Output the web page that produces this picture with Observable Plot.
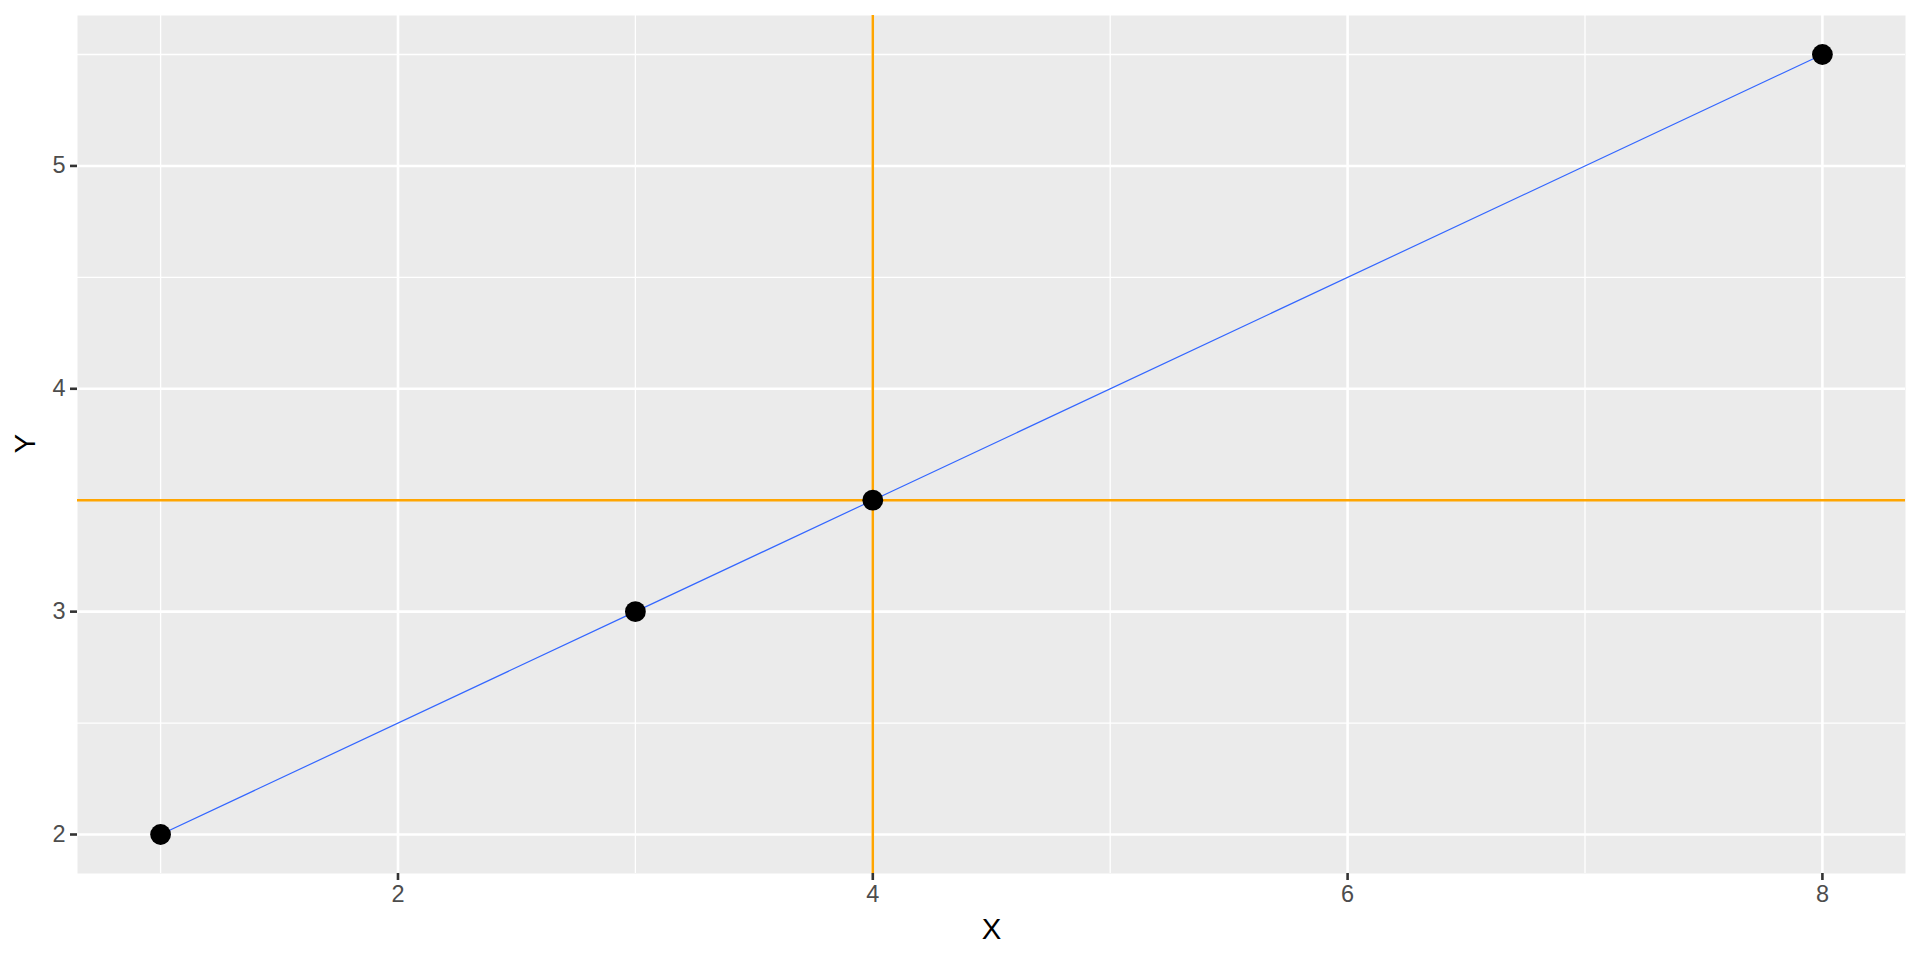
<!DOCTYPE html>
<html>
<head>
<meta charset="utf-8">
<script src="https://cdn.jsdelivr.net/npm/d3@7"></script>
<script src="https://cdn.jsdelivr.net/npm/@observablehq/plot@0.6"></script>
<style>
  html, body { margin: 0; padding: 0; background: #fff; }
  #chart { width: 1920px; height: 960px; }
</style>
</head>
<body>
<div id="chart"></div>
<script>
const xValues = [1, 3, 4, 8];
const yValues = [2, 3, 3.5, 5.5];
const vLine = [4];
const hLine = [3.5];
const xMajor = [2, 4, 6, 8];
const xMinor = [1, 3, 5, 7];
const yMajor = [2, 3, 4, 5];
const yMinor = [2.5, 3.5, 4.5, 5.5];
const xTitle = "X";
const yTitle = "Y";

const points = xValues.map((x, i) => ({x, y: yValues[i]}));
const font = "'Liberation Sans', Arial, Helvetica, sans-serif";

const chart = Plot.plot({
  width: 1920,
  height: 960,
  marginLeft: 77,
  marginRight: 15,
  marginTop: 15,
  marginBottom: 87,
  style: {fontFamily: font, background: "#fff", overflow: "visible"},
  x: {domain: [0.65, 8.35]},
  y: {domain: [1.825, 5.675]},
  marks: [
    Plot.frame({fill: "#EBEBEB", stroke: null}),
    Plot.ruleX(xMinor, {stroke: "#fff", strokeWidth: 1.3}),
    Plot.ruleY(yMinor, {stroke: "#fff", strokeWidth: 1.3}),
    Plot.ruleX(xMajor, {stroke: "#fff", strokeWidth: 2.6}),
    Plot.ruleY(yMajor, {stroke: "#fff", strokeWidth: 2.6}),
    Plot.axisX({ticks: xMajor, tickFormat: d3.format("d"), tickSize: 7, tickPadding: 5, fontSize: 23.5, color: "#4D4D4D", stroke: "#333333", strokeWidth: 2.6, label: null}),
    Plot.axisY({ticks: yMajor, tickFormat: d3.format("d"), tickSize: 7, tickPadding: 5, fontSize: 23.5, color: "#4D4D4D", stroke: "#333333", strokeWidth: 2.6, label: null}),
    Plot.line(points, {x: "x", y: "y", stroke: "#3366FF", strokeWidth: 1.2}),
    Plot.ruleX(vLine, {stroke: "#FFA500", strokeWidth: 2.5}),
    Plot.ruleY(hLine, {stroke: "#FFA500", strokeWidth: 2.5}),
    Plot.dot(points, {x: "x", y: "y", r: 10.4, fill: "#000", stroke: null}),
    Plot.text([xTitle], {text: d => d, frameAnchor: "bottom", lineAnchor: "bottom", dy: 65, fontSize: 29.3, fill: "#000"}),
    Plot.text([yTitle], {text: d => d, frameAnchor: "left", rotate: -90, dx: -52, dy: 9, fontSize: 29.3, fill: "#000"})
  ]
});
document.getElementById("chart").appendChild(chart);
</script>
</body>
</html>
